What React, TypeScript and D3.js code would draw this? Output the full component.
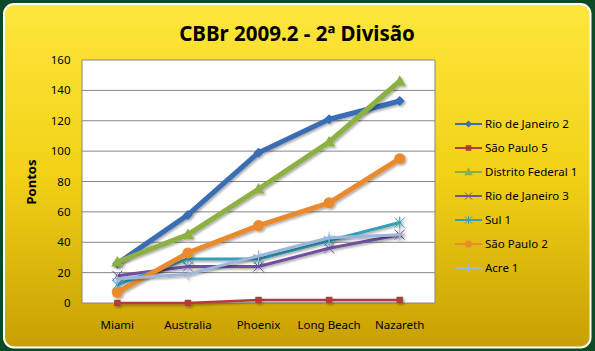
import React from "react";
import * as d3 from "d3";

const categories = ["Miami", "Australia", "Phoenix", "Long Beach", "Nazareth"];
const seriesNames = [
  "Rio de Janeiro 2",
  "São Paulo 5",
  "Distrito Federal 1",
  "Rio de Janeiro 3",
  "Sul 1",
  "São Paulo 2",
  "Acre 1",
];
const rioDeJaneiro2 = [26, 58, 99, 121, 133];
const saoPaulo5 = [0, 0, 2, 2, 2];
const distritoFederal1 = [27, 45, 75, 106, 146];
const rioDeJaneiro3 = [18, 24, 24, 36, 45];
const sul1 = [12, 29, 29, 41, 53];
const saoPaulo2 = [7, 33, 51, 66, 95];
const acre1 = [16, 19, 31, 43, 45];
const yTicks = [0, 20, 40, 60, 80, 100, 120, 140, 160];

const seriesValues = [rioDeJaneiro2, saoPaulo5, distritoFederal1, rioDeJaneiro3, sul1, saoPaulo2, acre1];
const colors = ["#3A6DB4", "#B23A3A", "#8DB043", "#7050A0", "#36A0B8", "#EA8A2E", "#9CB6DE"];
const widths = [5, 2.5, 5, 3, 3, 5, 3];
const markers = ["diamond", "square", "triangle", "x", "asterisk", "circle", "plus"];

const W = 595;
const H = 351;
const margin = { left: 82, top: 60, right: 435, bottom: 303 };
const font = "'Noto Sans', sans-serif";

function Marker({ kind, x, y, color, s }: { kind: string; x: number; y: number; color: string; s: number }) {
  switch (kind) {
    case "diamond":
      return <path d={`M${x},${y - s}L${x + s},${y}L${x},${y + s}L${x - s},${y}Z`} fill={color} />;
    case "square":
      return <rect x={x - s * 0.8} y={y - s * 0.8} width={s * 1.6} height={s * 1.6} fill={color} />;
    case "triangle":
      return <path d={`M${x},${y - s * 1.1}L${x + s * 1.1},${y + s * 0.8}L${x - s * 1.1},${y + s * 0.8}Z`} fill={color} />;
    case "circle":
      return <circle cx={x} cy={y} r={s} fill={color} />;
    case "x":
      return (
        <path
          d={`M${x - s},${y - s}L${x + s},${y + s}M${x - s},${y + s}L${x + s},${y - s}`}
          stroke={color}
          strokeWidth={1}
          fill="none"
        />
      );
    case "asterisk":
      return (
        <path
          d={`M${x - s},${y - s}L${x + s},${y + s}M${x - s},${y + s}L${x + s},${y - s}M${x},${y - s * 1.2}L${x},${y + s * 1.2}`}
          stroke={color}
          strokeWidth={1}
          fill="none"
        />
      );
    case "plus":
      return (
        <path
          d={`M${x - s},${y}L${x + s},${y}M${x},${y - s * 1.2}L${x},${y + s * 1.2}`}
          stroke={color}
          strokeWidth={1}
          fill="none"
        />
      );
    default:
      return null;
  }
}

export default function App() {
  const x = d3
    .scaleBand<string>()
    .domain(categories)
    .range([margin.left, margin.right]);
  const cx = (c: string) => (x(c) as number) + x.bandwidth() / 2;
  const y = d3.scaleLinear().domain([0, 160]).range([margin.bottom, margin.top]);
  const line = d3
    .line<number>()
    .x((_, i) => cx(categories[i]))
    .y((d) => y(d));

  const legendX = 455;
  const legendY = 124;
  const legendStep = 24;

  return (
    <svg width={W} height={H} style={{ position: "absolute", left: 0, top: 0 }}>
      <defs>
        <linearGradient id="bg" x1="0" y1="0" x2="0" y2="1">
          <stop offset="0" stopColor="#FDE63C" />
          <stop offset="0.5" stopColor="#F1D116" />
          <stop offset="1" stopColor="#C8A003" />
        </linearGradient>
        <filter id="shadow" x="-10%" y="-10%" width="130%" height="130%">
          <feDropShadow dx="1.5" dy="1.5" stdDeviation="1" floodColor="#000" floodOpacity="0.35" />
        </filter>
      </defs>
      <rect x={0} y={0} width={W} height={H} fill="#0B4A24" />
      <rect x={3} y={3} width={W - 6.5} height={H - 5.5} rx={11} fill="#fff" />
      <rect x={5} y={5} width={W - 10.5} height={H - 9.5} rx={9} fill="url(#bg)" />

      <text x={297} y={41} textAnchor="middle" fontFamily={font} fontWeight="bold" fontSize={20.5} fill="#000">
        CBBr 2009.2 - 2ª Divisão
      </text>

      <rect
        x={margin.left}
        y={margin.top}
        width={margin.right - margin.left}
        height={margin.bottom - margin.top}
        fill="#fff"
      />
      {yTicks.map((t) => (
        <g key={t}>
          <line x1={margin.left} x2={margin.right} y1={y(t)} y2={y(t)} stroke="#868686" strokeWidth={1} />
          <text x={70.5} y={y(t) + 4} textAnchor="end" fontFamily={font} fontSize={11.5} fill="#000">
            {t}
          </text>
        </g>
      ))}
      <line x1={margin.left} x2={margin.left} y1={margin.top} y2={margin.bottom} stroke="#868686" />
      <line x1={margin.right} x2={margin.right} y1={margin.top} y2={margin.bottom} stroke="#868686" />

      {categories.map((c) => (
        <text key={c} x={cx(c)} y={328.5} textAnchor="middle" fontFamily={font} fontSize={11.5} fill="#000">
          {c}
        </text>
      ))}

      <text
        transform={`translate(36,182) rotate(-90)`}
        textAnchor="middle"
        fontFamily={font}
        fontWeight="bold"
        fontSize={13}
        fill="#000"
      >
        Pontos
      </text>

      {seriesValues.map((vals, si) => (
        <g key={seriesNames[si]} filter="url(#shadow)">
          <path
            d={line(vals) as string}
            fill="none"
            stroke={colors[si]}
            strokeWidth={widths[si]}
            strokeLinejoin="round"
            strokeLinecap="round"
          />
          {vals.map((v, i) => (
            <Marker
              key={i}
              kind={markers[si]}
              x={cx(categories[i])}
              y={y(v)}
              color={colors[si]}
              s={markers[si] === "triangle" ? 5.5 : markers[si] === "circle" ? 5.5 : markers[si] === "square" ? 4 : 5}
            />
          ))}
        </g>
      ))}

      {seriesNames.map((name, si) => {
        const ly = legendY + si * legendStep;
        return (
          <g key={name}>
            <line x1={legendX} x2={legendX + 27} y1={ly} y2={ly} stroke={colors[si]} strokeWidth={2} />
            <Marker kind={markers[si]} x={legendX + 13.5} y={ly} color={colors[si]} s={markers[si] === "triangle" ? 4 : 3.5} />
            <text x={legendX + 30} y={ly + 4} fontFamily={font} fontSize={11.5} fill="#000">
              {name}
            </text>
          </g>
        );
      })}
    </svg>
  );
}
